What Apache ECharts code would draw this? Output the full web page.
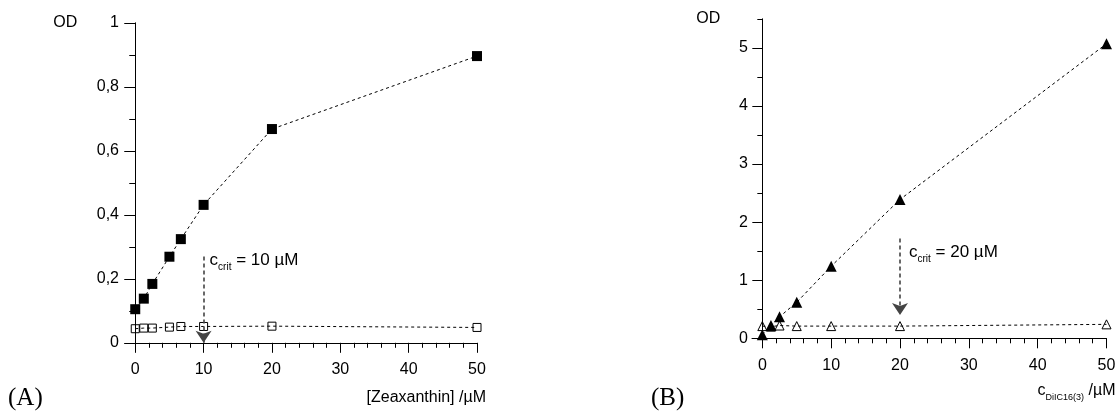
<!DOCTYPE html>
<html>
<head>
<meta charset="utf-8">
<script src="https://cdn.jsdelivr.net/npm/echarts@6.0.0/dist/echarts.min.js"></script>
<style>
html,body{margin:0;padding:0;background:#fff}
#chart{width:1117px;height:413px}
</style>
</head>
<body>
<div id="chart"></div>
<script>
// panel A : zeaxanthin
const concA = [0, 1.25, 2.5, 5, 6.67, 10, 20, 50];
const odA_filled = [0.105, 0.138, 0.184, 0.269, 0.324, 0.431, 0.668, 0.896];
const odA_open = [0.044, 0.046, 0.046, 0.049, 0.051, 0.051, 0.052, 0.048];
// panel B : DiIC16(3)
const concB = [0, 1.25, 2.5, 5, 10, 20, 50];
const odB_filled = [0.06, 0.22, 0.37, 0.62, 1.24, 2.39, 5.07];
const odB_open = [0.21, 0.2, 0.22, 0.21, 0.21, 0.21, 0.24];

const xMajor = [0, 10, 20, 30, 40, 50];
const xMinor = [2, 4, 6, 8, 12, 14, 16, 18, 22, 24, 26, 28, 32, 34, 36, 38, 42, 44, 46, 48];
const yMajorA = [0, 0.2, 0.4, 0.6, 0.8, 1];
const yMinorA = [0.1, 0.3, 0.5, 0.7, 0.9];
const yMajorB = [0, 1, 2, 3, 4, 5];
const yMinorB = [0.5, 1.5, 2.5, 3.5, 4.5, 5.5];

// c_crit arrows: [x, from OD, to OD]
const critA = [10, 0.27, 0.0];
const critB = [20, 1.72, 0.4];

const FONT = 'Liberation Sans';
const BLACK = '#000';

function zip(xs, ys) {
    return xs.map((x, i) => [x, ys[i]]);
}

function xAxes(grid, name, nameStyle) {
    return [{
        type: 'value', gridIndex: grid, min: -1.5, max: 50, position: 'bottom',
        axisLine: {onZero: false, lineStyle: {color: BLACK, width: 1}},
        axisTick: {customValues: xMajor, length: 10, lineStyle: {color: BLACK}},
        axisLabel: {customValues: xMajor, margin: 19, color: BLACK, fontSize: 16, fontFamily: FONT},
        splitLine: {show: false},
        name: name, nameLocation: 'end', nameGap: 9,
        nameTextStyle: nameStyle
    }, {
        type: 'value', gridIndex: grid, min: -1.5, max: 50, position: 'bottom',
        axisLine: {show: false, onZero: false},
        axisTick: {customValues: xMinor, length: 5, lineStyle: {color: BLACK}},
        axisLabel: {show: false},
        splitLine: {show: false}
    }];
}

function yAxes(grid, max, major, minor, tickLen, margin, namePad, fmt) {
    return [{
        type: 'value', gridIndex: grid, min: 0, max: max, position: 'left',
        axisLine: {show: true, onZero: true, onZeroAxisIndex: grid * 2, lineStyle: {color: BLACK, width: 1}},
        axisTick: {customValues: major, length: tickLen, lineStyle: {color: BLACK}},
        axisLabel: {customValues: major, margin: margin, color: BLACK, fontSize: 16, fontFamily: FONT, formatter: fmt},
        splitLine: {show: false},
        name: 'OD', nameLocation: 'end', nameGap: 0,
        nameTextStyle: {color: BLACK, fontSize: 16, fontFamily: FONT, align: 'right', verticalAlign: 'middle', padding: [0, namePad, 0, 0]}
    }, {
        type: 'value', gridIndex: grid, min: 0, max: max, position: 'left',
        axisLine: {show: false, onZero: true, onZeroAxisIndex: grid * 2 + 1},
        axisTick: {customValues: minor, length: Math.round(tickLen / 2), lineStyle: {color: BLACK}},
        axisLabel: {show: false},
        splitLine: {show: false}
    }];
}

const subRich = {
    m: {fontSize: 17, fontFamily: FONT, color: BLACK, lineHeight: 24},
    s: {fontSize: 10, fontFamily: FONT, color: BLACK, lineHeight: 12, verticalAlign: 'bottom'}
};
const axisSubRich = {
    m: {fontSize: 16, fontFamily: FONT, color: BLACK, lineHeight: 24},
    s: {fontSize: 9, fontFamily: FONT, color: BLACK, lineHeight: 12, verticalAlign: 'bottom'}
};

function critMarks(crit, text, dist, off) {
    return {
        markLine: {
            silent: true, animation: false,
            symbol: ['none', 'arrow'], symbolSize: 12,
            itemStyle: {color: '#222'},
            lineStyle: {type: [4, 3], color: '#444', width: 1.6},
            label: {show: false},
            data: [[{coord: [crit[0], crit[1]]}, {coord: [crit[0], crit[2]]}]]
        },
        markPoint: {
            silent: true, animation: false,
            symbol: 'circle', symbolSize: 0,
            label: {
                show: true, position: 'right', distance: dist, offset: off,
                formatter: () => '{m|c}{s|crit}{m| = ' + text + '}',
                rich: subRich
            },
            data: [{coord: [crit[0], crit[1]]}]
        }
    };
}

function lineSeries(xi, yi, data, symbol, size, filled, extra) {
    return Object.assign({
        type: 'line', xAxisIndex: xi, yAxisIndex: yi, data: data,
        symbol: symbol, symbolSize: size, showAllSymbol: true,
        lineStyle: {type: [3, 3], width: 1, color: BLACK},
        itemStyle: filled ? {color: BLACK, borderColor: BLACK, borderWidth: 0}
                          : {color: 'rgba(255,255,255,0)', borderColor: BLACK, borderWidth: 1},
        z: filled ? 3 : 2
    }, extra || {});
}

const commaFmt = v => String(v).replace('.', ',');

const option = {
    animation: false,
    backgroundColor: '#fff',
    title: [
        {text: '(A)', left: 8, top: 386, padding: 0,
         textStyle: {fontFamily: 'Liberation Serif', fontSize: 25, fontWeight: 'normal', color: BLACK}},
        {text: '(B)', left: 651, top: 386, padding: 0,
         textStyle: {fontFamily: 'Liberation Serif', fontSize: 25, fontWeight: 'normal', color: BLACK}}
    ],
    grid: [
        {left: 125, top: 22.8, width: 352, height: 320, containLabel: false, outerBoundsMode: 'none'},
        {left: 752, top: 18.8, width: 354.5, height: 319.5, containLabel: false, outerBoundsMode: 'none'}
    ],
    xAxis: [].concat(
        xAxes(0, '[Zeaxanthin] /µM', {color: BLACK, fontSize: 16, fontFamily: FONT, align: 'right', verticalAlign: 'top', padding: [47, 0, 0, 0]}),
        xAxes(1, '{m|c}{s|DiIC16(3)}{m| /µM}', {align: 'right', verticalAlign: 'top', padding: [40, 0, 0, 0], rich: axisSubRich})
    ),
    yAxis: [].concat(
        yAxes(0, 1, yMajorA, yMinorA, 11, 6, 58, commaFmt),
        yAxes(1, 5.5, yMajorB, yMinorB, 10, 4, 42, v => String(v))
    ),
    series: [
        lineSeries(0, 0, zip(concA, odA_open), 'rect', 8, false),
        lineSeries(0, 0, zip(concA, odA_filled), 'rect', 10, true, critMarks(critA, '10 µM', 6, [0, 4])),
        lineSeries(2, 2, zip(concB, odB_open), 'triangle', 9, false),
        lineSeries(2, 2, zip(concB, odB_filled), 'triangle', 11, true, critMarks(critB, '20 µM', 9, [0, 14]))
    ]
};

const chart = echarts.init(document.getElementById('chart'), null, {renderer: 'canvas'});
chart.setOption(option);
</script>
</body>
</html>
